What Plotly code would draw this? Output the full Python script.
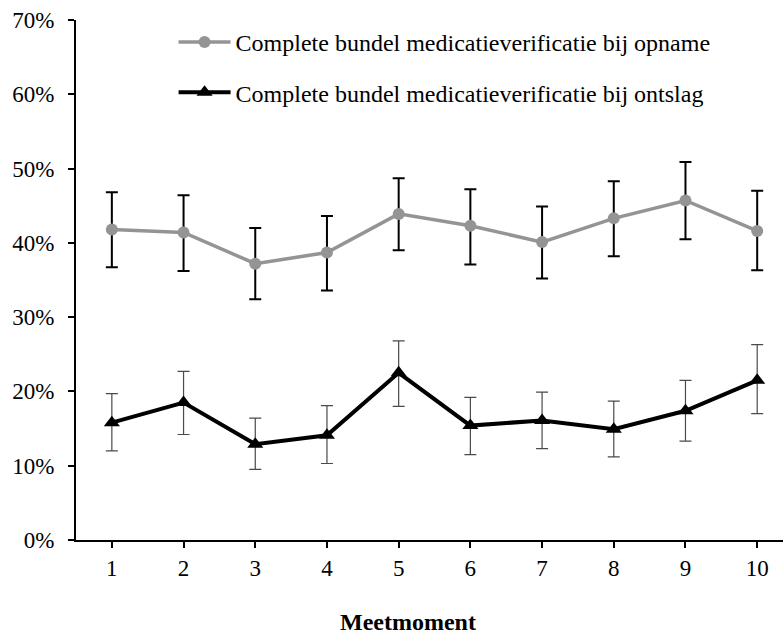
import plotly.graph_objects as go

# Meetmomenten (measurement rounds)
meetmoment = [1, 2, 3, 4, 5, 6, 7, 8, 9, 10]

# Complete bundle at admission: percentage with 95% CI bounds
opname = [0.418, 0.414, 0.372, 0.387, 0.439, 0.423, 0.401, 0.433, 0.457, 0.416]
opname_hoog = [0.468, 0.464, 0.420, 0.436, 0.487, 0.472, 0.449, 0.483, 0.509, 0.470]
opname_laag = [0.367, 0.362, 0.324, 0.336, 0.390, 0.371, 0.352, 0.382, 0.405, 0.363]

# Complete bundle at discharge: percentage with 95% CI bounds
ontslag = [0.158, 0.185, 0.129, 0.141, 0.225, 0.154, 0.161, 0.149, 0.174, 0.215]
ontslag_hoog = [0.197, 0.227, 0.164, 0.181, 0.268, 0.192, 0.199, 0.187, 0.215, 0.263]
ontslag_laag = [0.120, 0.142, 0.095, 0.103, 0.180, 0.115, 0.123, 0.112, 0.133, 0.170]

y_ticks = [0, 0.1, 0.2, 0.3, 0.4, 0.5, 0.6, 0.7]

FONT = "Times New Roman, Liberation Serif, serif"


def plus(v, hi):
    return [h - x for x, h in zip(v, hi)]


def minus(v, lo):
    return [x - l for x, l in zip(v, lo)]


fig = go.Figure()

fig.add_trace(go.Scatter(
    x=meetmoment, y=opname, mode="lines+markers",
    name="Complete bundel medicatieverificatie bij opname",
    legendgroup="a",
    line=dict(color="#949494", width=3.5),
    marker=dict(symbol="circle", size=12, color="#949494"),
    error_y=dict(type="data", symmetric=False,
                 array=plus(opname, opname_hoog),
                 arrayminus=minus(opname, opname_laag),
                 color="#000000", thickness=2, width=6),
))

fig.add_trace(go.Scatter(
    x=meetmoment, y=ontslag, mode="lines+markers",
    name="Complete bundel medicatieverificatie bij ontslag",
    legendgroup="b",
    line=dict(color="#000000", width=4),
    marker=dict(symbol="triangle-up", size=14, color="#000000"),
    error_y=dict(type="data", symmetric=False,
                 array=plus(ontslag, ontslag_hoog),
                 arrayminus=minus(ontslag, ontslag_laag),
                 color="#4a4a4a", thickness=1.2, width=6),
))

fig.update_layout(
    width=783, height=635,
    margin=dict(l=76, r=0, t=20, b=95),
    paper_bgcolor="white", plot_bgcolor="white",
    font=dict(family=FONT, size=23, color="black"),
    showlegend=True,
    legend=dict(x=0.138, y=1.0, xanchor="left", yanchor="top",
                bgcolor="rgba(0,0,0,0)", tracegroupgap=16, itemwidth=52,
                font=dict(family=FONT, size=24, color="black")),
    xaxis=dict(range=[0.5, 10.36], tickmode="array", tickvals=meetmoment,
               ticktext=[str(m) for m in meetmoment],
               showgrid=False, zeroline=False, showline=True,
               linecolor="black", linewidth=2,
               ticks="outside", ticklen=6, tickwidth=2, tickcolor="black",
               ticklabelstandoff=0),
    yaxis=dict(range=[0, 0.7], tickmode="array", tickvals=y_ticks,
               tickformat=".0%", showgrid=False, zeroline=False,
               showline=True, linecolor="black", linewidth=2,
               ticks="outside", ticklen=6, tickwidth=2, tickcolor="black",
               ticklabelstandoff=9),
    annotations=[dict(text="<b>Meetmoment</b>", xref="paper", yref="paper",
                      x=(408 - 76) / 707, y=-0.158, xanchor="center",
                      yanchor="middle", showarrow=False,
                      font=dict(family=FONT, size=24, color="black"))],
)

fig.write_html("out.html")
